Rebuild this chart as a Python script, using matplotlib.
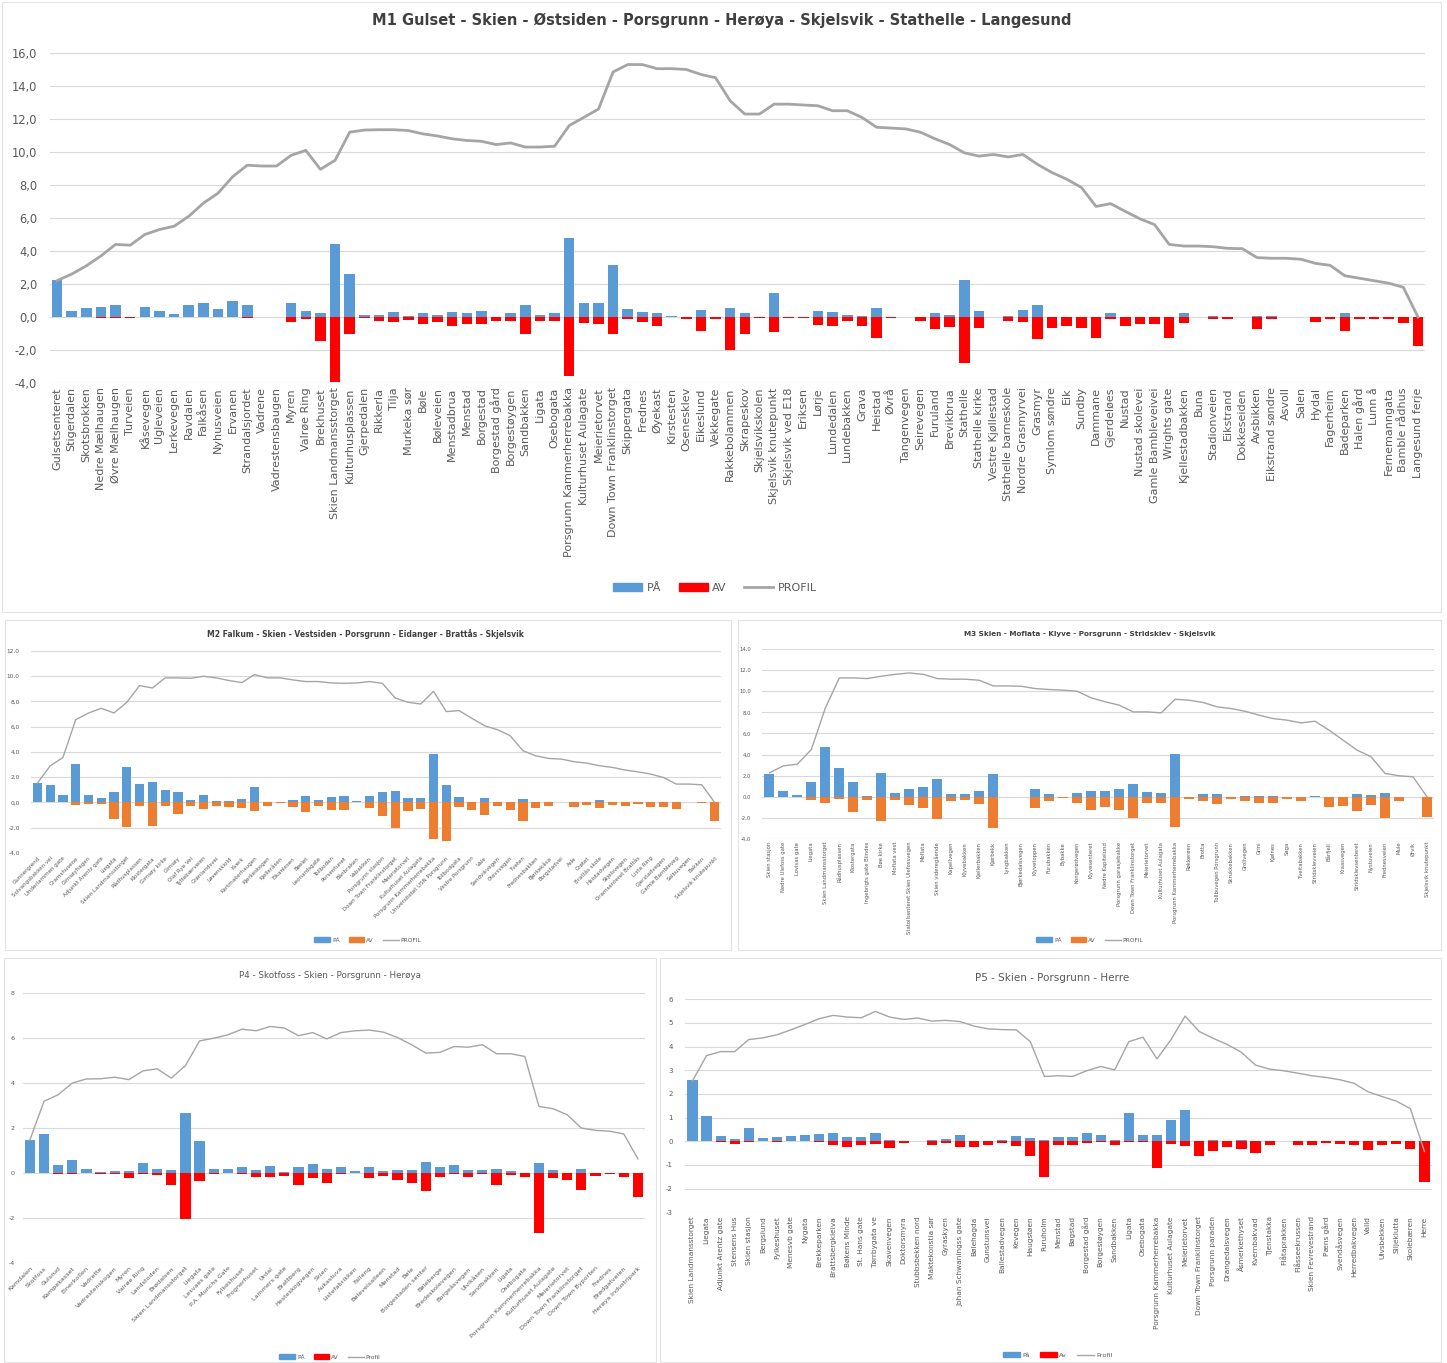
import matplotlib
matplotlib.use("Agg")
import matplotlib.pyplot as plt
from matplotlib.patches import Patch, Rectangle
from matplotlib.lines import Line2D

# ---------------- DATA ----------------
m1_labels = ["Gulsetsenteret", "Stigerdalen", "Skotsbrokken", "Nedre Mælhaugen", "Øvre Mælhaugen", "Turveien",
             "Kåsevegen", "Ugleveien", "Lerkevegen", "Ravdalen", "Falkåsen", "Nyhusveien", "Ervanen",
             "Strandalsjordet", "Vadrene", "Vadrestensbaugen", "Myren", "Valrøe Ring", "Brekhuset",
             "Skien Landmansstorget", "Kulturhusplassen", "Gjerpedalen", "Rikkerla", "Tilja", "Murkeka sør", "Bøle",
             "Bøleveien", "Menstadbrua", "Menstad", "Borgestad", "Borgestad gård", "Borgestøygen", "Sandbakken",
             "Ligata", "Osebogata", "Porsgrunn Kammerherrebakka", "Kulturhuset Aulagate", "Meierietorvet",
             "Down Town Franklinstorget", "Skippergata", "Frednes", "Øyekast", "Kirstesten", "Osenesklev",
             "Eikeslund", "Vekkegate", "Rakkebolammen", "Skrapeskov", "Skjelsvikskolen", "Skjelsvik knutepunkt",
             "Skjelsvik ved E18", "Eriksen", "Lørje", "Lundedalen", "Lundebakken", "Grava", "Heistad", "Øvrå",
             "Tangenvegen", "Seirevegen", "Furuland", "Brevikbrua", "Stathelle", "Stathelle kirke",
             "Vestre Kjøllestad", "Stathelle barneskole", "Nordre Grasmyrvei", "Grasmyr", "Symlom søndre", "Eik",
             "Sundby", "Dammane", "Gjerdeløes", "Nustad", "Nustad skolevei", "Gamle Bambleveivei", "Wrights gate",
             "Kjellestadbakken", "Buna", "Stadionveien", "Eikstrand", "Dokkeseiden", "Avsbikken",
             "Eikstrand søndre", "Asvoll", "Salen", "Hydal", "Fagerheim", "Badeparken", "Halen gård", "Lunn å",
             "Fernemanngata", "Bamble rådhus", "Langesund ferje"]
m1_pa = [2.24, 0.36, 0.55, 0.6, 0.7, 0.0, 0.6, 0.36, 0.16, 0.7, 0.87, 0.5, 1.0, 0.73, 0.0, 0.02, 0.87, 0.36,
         0.26, 4.42, 2.63, 0.14, 0.14, 0.28, 0.05, 0.22, 0.14, 0.3, 0.26, 0.36, 0.02, 0.26, 0.75, 0.14, 0.22,
         4.8, 0.83, 0.83, 3.17, 0.46, 0.28, 0.26, 0.08, 0.0, 0.42, 0.0, 0.55, 0.26, 0.0, 1.43, 0.0, 0.0, 0.36,
         0.28, 0.14, 0.05, 0.55, 0.0, 0.02, 0.0, 0.26, 0.14, 2.24, 0.36, 0.02, 0.05, 0.4, 0.75, 0.0, 0.0, 0.0,
         0.0, 0.22, 0.0, 0.0, 0.0, 0.0, 0.26, 0.02, 0.08, 0.0, 0.0, 0.08, 0.05, 0.0, 0.02, 0.0, 0.0, 0.26, 0.0,
         0.0, 0.0, 0.0, 0.0]
m1_av = [0.0, 0.0, 0.0, -0.05, -0.05, -0.05, 0.0, -0.03, 0.0, -0.03, -0.03, -0.03, 0.0, -0.05, -0.03, 0.0,
         -0.3, -0.1, -1.45, -3.94, -1.0, -0.06, -0.26, -0.3, -0.2, -0.44, -0.3, -0.57, -0.44, -0.44, -0.24,
         -0.24, -1.0, -0.24, -0.24, -3.6, -0.34, -0.4, -1.0, -0.1, -0.3, -0.55, -0.03, -0.1, -0.85, -0.1, -2.0,
         -1.0, -0.05, -0.89, -0.05, -0.05, -0.46, -0.55, -0.26, -0.55, -1.25, -0.05, -0.02, -0.26, -0.7, -0.59,
         -2.77, -0.67, 0.0, -0.26, -0.3, -1.31, -0.67, -0.55, -0.67, -1.25, -0.1, -0.53, -0.4, -0.4, -1.3,
         -0.36, 0.0, -0.1, -0.1, 0.0, -0.7, -0.1, 0.0, 0.0, -0.3, -0.1, -0.87, -0.1, -0.1, -0.1, -0.34, -1.75]
m1_profil = [2.2, 2.6, 3.1, 3.7, 4.4, 4.35, 5.0, 5.3, 5.5, 6.1, 6.9, 7.5, 8.5, 9.2, 9.15, 9.15, 9.8, 10.1,
             8.95, 9.5, 11.2, 11.33, 11.35, 11.35, 11.3, 11.1, 10.97, 10.8, 10.7, 10.65, 10.45, 10.55, 10.3,
             10.3, 10.35, 11.6, 12.1, 12.6, 14.85, 15.3, 15.3, 15.05, 15.05, 15.0, 14.7, 14.5, 13.1, 12.3, 12.3,
             12.9, 12.9, 12.85, 12.8, 12.5, 12.5, 12.1, 11.5, 11.45, 11.4, 11.2, 10.8, 10.45, 9.95, 9.75, 9.85,
             9.7, 9.85, 9.25, 8.75, 8.35, 7.85, 6.7, 6.87, 6.4, 5.95, 5.6, 4.4, 4.3, 4.3, 4.26, 4.16, 4.14, 3.6,
             3.56, 3.56, 3.5, 3.25, 3.13, 2.5, 2.35, 2.2, 2.05, 1.8, 0.0]

m2_labels = ["Gunnergrend", "Solvangsbakken vei", "Underlammen gate", "Gramshusene", "Gimsøyhagen",
             "Adjunkt Arentz gate", "Liegata", "Skien Landmansstorget", "Rådhusplassen", "Klostergata",
             "Gimsøy kirke", "Gimsøy", "Olaf Rye Vei", "Tyttebærveien", "Grønlandsvei", "Løvenskiold", "Kverk",
             "Kartmakerhaugen", "Kjerkeskogen", "Kjelleråsen", "Eikanlesen", "Bøelet", "Leonardsgate",
             "Tollboden", "Porsentunet", "Bånbraken", "Vabakken", "Porsgrunn stasjon",
             "Down Town Franklinstorget", "Meierietorvet", "Kulturhuset Aulagata", "Porsgrunn Kammerherrebakka",
             "Universitetet USN Porsgrunn", "Tollbodgata", "Vestre Porsgrunn", "Vale", "Sandvikvegen",
             "Olavsvegen", "Tveten", "Frednesbakken", "Bjørkekåsa", "Borgstadvei", "Asle", "Grøtet",
             "Brattås skole", "Heistadvegen", "Skjelsvegen", "Oramsenteret Brattås", "Lista Ring",
             "Gjerstadvegen", "Gamle Bambleveg", "Salbuvegen", "Bakken", "Skjelsvik knutepunkt"]
m2_pa = [1.53, 1.38, 0.6, 3.04, 0.6, 0.34, 0.85, 2.8, 1.48, 1.64, 1.0, 0.85, 0.18, 0.58, 0.13, 0.13, 0.24,
         1.24, 0.0, 0.05, 0.18, 0.5, 0.18, 0.45, 0.48, 0.13, 0.48, 0.8, 0.9, 0.34, 0.34, 3.84, 1.4, 0.45, 0.0,
         0.34, 0.0, 0.0, 0.24, 0.0, 0.0, 0.0, 0.05, 0.0, 0.18, 0.0, 0.0, 0.0, 0.0, 0.0, 0.0, 0.0, 0.0, 0.0]
m2_av = [0.0, 0.0, 0.0, -0.18, -0.08, -0.13, -1.27, -1.98, -0.26, -1.83, -0.26, -0.93, -0.26, -0.48, -0.29,
         -0.37, -0.42, -0.71, -0.24, -0.05, -0.37, -0.77, -0.24, -0.61, -0.56, 0.0, -0.42, -1.03, -2.04, -0.66,
         -0.53, -2.88, -3.07, -0.37, -0.56, -0.98, -0.24, -0.61, -1.5, -0.42, -0.24, 0.0, -0.37, -0.2, -0.42,
         -0.2, -0.29, -0.1, -0.32, -0.32, -0.48, 0.0, -0.05, -1.45]
m2_profil = [1.53, 2.9, 3.57, 6.56, 7.09, 7.46, 7.09, 7.94, 9.26, 9.07, 9.87, 9.87, 9.84, 10.0, 9.87, 9.66, 9.5,
             10.13, 9.87, 9.87, 9.71, 9.58, 9.58, 9.47, 9.44, 9.47, 9.58, 9.44, 8.28, 7.94, 7.8, 8.81, 7.2, 7.28,
             6.67, 6.08, 5.77, 5.29, 4.1, 3.7, 3.49, 3.44, 3.23, 3.12, 2.91, 2.78, 2.57, 2.43, 2.25, 1.98, 1.46,
             1.46, 1.4, 0.0]

m3_labels = ["Skien stasjon", "Nedre Ulefoss gate", "Lovisas gate", "Liegata", "Skien Landmansstorget",
             "Rådhusplassen", "Klostergata", "Ingebrigts gate Blindes", "Bøe kirke", "Moflata vest",
             "Statoilsenteret Skien Ulefossvegen", "Moflata", "Skien videregående", "Kapellvegen",
             "Klyvebakken", "Kjellerbakken", "Kjørbekk", "Lyngbakken", "Bjørkedalsvegen", "Klyvetoppen",
             "Furubakken", "Bybakke", "Kongerødvegen", "Klyvesenteret", "Nedre Kapitelund",
             "Porsgrunn garasjebakke", "Down Town Franklinstorget", "Meierietorvet", "Kulturhuset Aulagata",
             "Porsgrunn Kammerherrebakka", "Røkkerøen", "Brotta", "Tollbuvegen Porsgrunn", "Skrukkebakken",
             "Grolivegen", "Grini", "Kjølnes", "Saga", "Tveitabakken", "Stridsklevveien", "Bårfjell",
             "Kraasvegen", "Stridsklevsenteret", "Nystuveien", "Frednesveien", "Mule", "Ørvik",
             "Skjelsvik knutepunkt"]
m3_pa = [2.2, 0.57, 0.15, 1.36, 4.73, 2.68, 1.36, 0.06, 2.27, 0.38, 0.73, 0.88, 1.67, 0.25, 0.25, 0.54, 2.2,
         0.0, 0.0, 0.73, 0.22, 0.0, 0.38, 0.54, 0.54, 0.76, 1.2, 0.47, 0.38, 4.04, 0.0, 0.22, 0.22, 0.0, 0.1,
         0.1, 0.1, 0.0, 0.0, 0.05, 0.0, 0.0, 0.25, 0.15, 0.38, 0.0, 0.0, 0.0]
m3_av = [0.0, 0.0, 0.0, -0.28, -0.63, -0.22, -1.48, -0.28, -2.27, -0.28, -0.76, -1.1, -2.15, -0.38, -0.32,
         -0.73, -2.93, 0.0, 0.0, -1.1, -0.38, -0.16, -0.57, -1.26, -0.98, -1.23, -2.05, -0.6, -0.57, -2.9,
         -0.25, -0.41, -0.73, -0.22, -0.38, -0.6, -0.57, -0.22, -0.44, 0.0, -0.98, -0.91, -1.3, -0.76, -1.99,
         -0.41, -0.05, -1.96]
m3_profil = [2.27, 2.93, 3.09, 4.48, 8.42, 11.26, 11.26, 11.2, 11.42, 11.6, 11.73, 11.6, 11.2, 11.14, 11.14,
             11.04, 10.5, 10.5, 10.47, 10.25, 10.16, 10.1, 10.0, 9.37, 9.0, 8.68, 8.04, 8.04, 7.95, 9.24, 9.15,
             8.93, 8.52, 8.36, 8.1, 7.73, 7.41, 7.26, 7.0, 7.16, 6.31, 5.36, 4.42, 3.79, 2.21, 1.99, 1.89, 0.0]

p4_labels = ["Kamdalen", "Skotfoss", "Gulsrud", "Kampekasset", "Einerkollen", "Vadrette", "Vadrestenskogen",
             "Myren", "Valrøe Ring", "Landstoden", "Brødalsen", "Skien Landmansstorget", "Liegata",
             "Lesvaes gate", "P.A. Munchs Gate", "Fylkeshuset", "Frognerhuset", "Urdal", "Lammers gate",
             "Brattberg", "Hesteskogvegen", "Skien", "Aukastuva", "Listefabrikken", "Falleng", "Bøleveisalleen",
             "Menstad", "Bøle", "Borgestaden senter", "Bøleberge", "Bredeskolevegen", "Borgeåsvegen",
             "Ulvikåsen", "Sandbakken", "Ligata", "Osebogata", "Porsgrunn Kammerherrebakka",
             "Kulturhuset Aulagate", "Meierietorvet", "Down Town Franklinstorget", "Down Town Byporten",
             "Frednes", "Brødgatveien", "Herøya Industripark"]
p4_pa = [1.46, 1.71, 0.34, 0.56, 0.19, 0.03, 0.1, 0.08, 0.46, 0.18, 0.12, 2.66, 1.43, 0.18, 0.18, 0.28, 0.15,
         0.32, 0.05, 0.24, 0.38, 0.19, 0.27, 0.1, 0.26, 0.08, 0.12, 0.12, 0.49, 0.24, 0.33, 0.12, 0.15, 0.18,
         0.08, 0.0, 0.46, 0.13, 0.0, 0.16, 0.0, 0.0, 0.0, 0.0]
p4_av = [0.0, 0.0, -0.05, -0.05, 0.0, -0.03, -0.05, -0.22, -0.05, -0.1, -0.53, -2.05, -0.34, -0.05, 0.0,
         -0.05, -0.18, -0.16, -0.12, -0.55, -0.24, -0.44, -0.05, 0.0, -0.24, -0.15, -0.3, -0.47, -0.81, -0.19,
         -0.05, -0.16, -0.05, -0.55, -0.08, -0.16, -2.66, -0.24, -0.31, -0.74, -0.12, -0.03, -0.16, -1.06]
p4_profil = [1.46, 3.18, 3.47, 3.99, 4.17, 4.18, 4.25, 4.14, 4.53, 4.62, 4.21, 4.76, 5.86, 5.98, 6.13, 6.38,
             6.31, 6.5, 6.43, 6.09, 6.23, 5.95, 6.23, 6.31, 6.34, 6.25, 6.01, 5.69, 5.32, 5.35, 5.61, 5.58, 5.69,
             5.29, 5.29, 5.17, 2.95, 2.85, 2.58, 1.99, 1.89, 1.85, 1.73, 0.62]

p5_labels = ["Skien Landmansstorget", "Liegata", "Adjunkt Arentz gate", "Stensens Hus", "Skien stasjon",
             "Bergslund", "Fylkeshuset", "Menesvb gate", "Nygata", "Brekkeparken", "Brattsbergkleiva",
             "Bøkens Minde", "St. Hans gate", "Tørrbygata ve", "Skavenvegen", "Doktorsmyra", "Stubbsbekken nord",
             "Maktekonstia sør", "Gyraskyen", "Johan Schwaningss gate", "Bølehagda", "Gunstunsvei",
             "Ballestadvegen", "Kevegen", "Haugstøen", "Furuholm", "Menstad", "Bøgstad", "Borgestad gård",
             "Borgestøygen", "Sandbakken", "Ligata", "Osebogata", "Porsgrunn Kammerherrebakka",
             "Kulturhuset Aulagate", "Meierietorvet", "Down Town Franklinstorget", "Porsgrunn paraden",
             "Drangedalsvegen", "Åsmerkethyset", "Kvernbakvad", "Tjenstakka", "Flåtaprakken", "Flåsseekrussen",
             "Skien Fevrevestrand", "Pæns gård", "Svendåsvegen", "Herredbakvegen", "Valid", "Ulvsbekken",
             "Siljeklutta", "Skolebæren", "Herre"]
p5_pa = [2.6, 1.06, 0.24, 0.1, 0.57, 0.14, 0.18, 0.24, 0.26, 0.3, 0.34, 0.18, 0.17, 0.35, 0.07, 0.0, 0.02,
         0.07, 0.1, 0.26, 0.03, 0.0, 0.05, 0.24, 0.14, 0.05, 0.17, 0.18, 0.34, 0.26, 0.05, 1.2, 0.28, 0.26, 0.92,
         1.32, 0.0, 0.05, 0.0, 0.05, 0.0, 0.0, 0.0, 0.0, 0.0, 0.0, 0.0, 0.0, 0.0, 0.0, 0.0, 0.0, 0.0]
p5_av = [0.0, 0.0, -0.05, -0.1, -0.05, 0.0, -0.03, 0.0, 0.0, -0.03, -0.14, -0.23, -0.16, -0.13, -0.28, -0.07,
         0.0, -0.16, -0.06, -0.24, -0.24, -0.16, -0.07, -0.21, -0.61, -1.49, -0.14, -0.17, -0.07, -0.05, -0.17,
         -0.03, -0.03, -1.13, -0.11, -0.2, -0.64, -0.4, -0.24, -0.31, -0.5, -0.17, 0.0, -0.14, -0.14, -0.09,
         -0.1, -0.14, -0.38, -0.17, -0.11, -0.33, -1.73]
p5_profil = [2.55, 3.62, 3.79, 3.79, 4.3, 4.37, 4.5, 4.71, 4.94, 5.18, 5.32, 5.25, 5.22, 5.49, 5.25, 5.15, 5.21,
             5.08, 5.11, 5.06, 4.87, 4.75, 4.72, 4.71, 4.21, 2.74, 2.77, 2.74, 2.98, 3.16, 3.02, 4.21, 4.4, 3.48,
             4.3, 5.29, 4.64, 4.35, 4.09, 3.76, 3.22, 3.05, 2.98, 2.88, 2.77, 2.7, 2.6, 2.45, 2.09, 1.89, 1.7,
             1.38, -0.43]

# ---------------- STYLE ----------------
BLUE = "#5B9BD5"
RED = "#FF0000"
ORANGE = "#ED7D31"
GREY = "#A5A5A5"
GRID = "#D9D9D9"
TXT = "#595959"

W, H = 1447, 1363
fig = plt.figure(figsize=(W / 100, H / 100), dpi=100)
fig.patch.set_facecolor("white")


def frame(x0, y0, x1, y1):
    fig.patches.append(Rectangle((x0 / W, 1 - y1 / H), (x1 - x0) / W, (y1 - y0) / H,
                                 transform=fig.transFigure, fill=False, ec="#E3E3E3", lw=0.8))


def panel(x0, x1, ytop, ybot, labels, pa, av, profil, av_color, ylim, yticks, fmt,
          rot, lab_fs, tick_fs, lw, ypad, xpad):
    ax = fig.add_axes([x0 / W, 1 - ybot / H, (x1 - x0) / W, (ybot - ytop) / H])
    x = list(range(len(labels)))
    ax.bar(x, pa, width=0.72, color=BLUE, zorder=2)
    ax.bar(x, av, width=0.72, color=av_color, zorder=2)
    ax.plot(x, profil, color=GREY, lw=lw, zorder=3, solid_joinstyle="round")
    ax.set_xlim(-0.5, len(labels) - 0.5)
    ax.set_ylim(*ylim)
    ax.set_yticks(yticks)
    ax.set_yticklabels([fmt(v) for v in yticks], fontsize=tick_fs, color=TXT)
    ax.yaxis.grid(True, color=GRID, lw=0.8)
    ax.set_axisbelow(True)
    for s in ax.spines.values():
        s.set_visible(False)
    ax.tick_params(axis="both", length=0)
    ax.tick_params(axis="y", pad=ypad)
    ax.tick_params(axis="x", pad=xpad)
    ax.set_xticks(x)
    if rot == 90:
        ax.set_xticklabels(labels, rotation=90, fontsize=lab_fs, color=TXT, ha="center", va="top")
    else:
        ax.set_xticklabels(labels, rotation=45, fontsize=lab_fs, color=TXT, ha="right",
                           rotation_mode="anchor")
    return ax


def legend(cx, cy, av_color, names, fs, lw):
    handles = [Patch(color=BLUE), Patch(color=av_color), Line2D([0], [0], color=GREY, lw=lw)]
    fig.legend(handles, names, loc="center", bbox_to_anchor=(cx / W, 1 - cy / H), ncol=3, frameon=False,
               fontsize=fs, handlelength=2.6, handleheight=0.7, columnspacing=1.6, handletextpad=0.4,
               labelcolor=TXT)


dec = lambda v: f"{v:.1f}".replace(".", ",")
intf = lambda v: f"{v:d}"

# frames
frame(2, 2, 1441, 612)
frame(5, 620, 731, 950)
frame(738, 620, 1441, 950)
frame(4, 958, 656, 1362)
frame(660, 958, 1441, 1362)

# M1
panel(49.7, 1425.3, 53, 383, m1_labels, m1_pa, m1_av, m1_profil, RED, (-4, 16),
      [-4, -2, 0, 2, 4, 6, 8, 10, 12, 14, 16], dec, 90, 8.0, 8.3, 2.0, 9, 3)
fig.text(722 / W, 1 - 20 / H, "M1 Gulset - Skien - Østsiden - Porsgrunn - Herøya - Skjelsvik - Stathelle - Langesund",
         ha="center", va="center", fontsize=10.5, fontweight="bold", color="#404040")
legend(715, 588, RED, ["PÅ", "AV", "PROFIL"], 8, 2.0)

# M2
panel(31, 721, 651, 853, m2_labels, m2_pa, m2_av, m2_profil, ORANGE, (-4, 12),
      [-4, -2, 0, 2, 4, 6, 8, 10, 12], dec, 45, 4.0, 4.2, 1.0, 8, 2)
fig.text(365 / W, 1 - 634 / H, "M2 Falkum - Skien - Vestsiden - Porsgrunn - Eidanger - Brattås - Skjelsvik",
         ha="center", va="center", fontsize=5.5, fontweight="bold", color="#404040")
legend(368, 940, ORANGE, ["PÅ", "AV", "PROFIL"], 4.2, 1.0)

# M3
panel(762.4, 1434, 649, 839, m3_labels, m3_pa, m3_av, m3_profil, ORANGE, (-4, 14),
      [-4, -2, 0, 2, 4, 6, 8, 10, 12, 14], dec, 90, 3.8, 3.8, 1.0, 8, 2)
fig.text(1090 / W, 1 - 634 / H, "M3 Skien - Moflata - Klyve - Porsgrunn - Stridsklev - Skjelsvik",
         ha="center", va="center", fontsize=5.2, fontweight="bold", color="#404040")
legend(1090, 940, ORANGE, ["PÅ", "AV", "PROFIL"], 4.2, 1.0)

# P4
panel(22.8, 645, 992.7, 1263, p4_labels, p4_pa, p4_av, p4_profil, RED, (-4, 8),
      [-4, -2, 0, 2, 4, 6, 8], intf, 45, 4.6, 4.6, 1.0, 6, 2)
fig.text(330 / W, 1 - 975 / H, "P4 - Skotfoss - Skien - Porsgrunn - Herøya",
         ha="center", va="center", fontsize=6.3, color="#595959")
legend(330, 1357, RED, ["PÅ", "AV", "Profil"], 4.2, 1.0)

# P5
panel(685.4, 1431.5, 999.3, 1212.3, p5_labels, p5_pa, p5_av, p5_profil, RED, (-3, 6),
      [-3, -2, -1, 0, 1, 2, 3, 4, 5, 6], intf, 90, 5.3, 5.0, 1.0, 9, 3)
fig.text(1052 / W, 1 - 978 / H, "P5 - Skien - Porsgrunn - Herre",
         ha="center", va="center", fontsize=7.5, color="#595959")
legend(1058, 1355, RED, ["På", "Av", "Profil"], 4.6, 1.0)

fig.savefig("out.png", dpi=100, facecolor="white")
